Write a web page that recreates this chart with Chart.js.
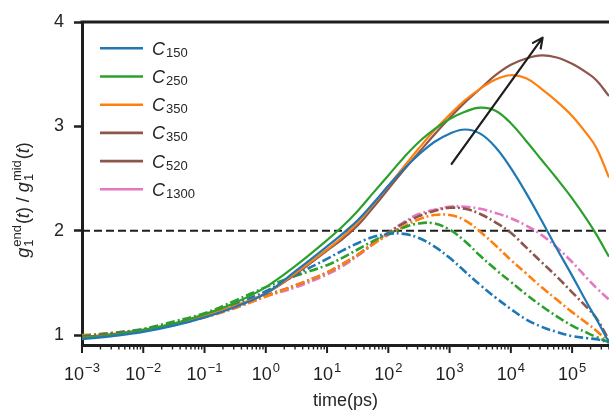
<!DOCTYPE html>
<html lang="en">
<head>
<meta charset="UTF-8" />
<title>g1 end / mid ratio</title>
<style>
  html, body { margin: 0; padding: 0; background: #fff; }
  #wrap { width: 609px; height: 412px; }
</style>
</head>
<body>
<div id="wrap"><canvas id="chart" width="609" height="412"></canvas></div>
<script src="https://cdn.jsdelivr.net/npm/chart.js"></script>
<script>
// time axis (ps), log spaced samples
const times = [0.001, 0.00316, 0.01, 0.0316, 0.1, 0.316, 1, 3.16, 10, 17.8, 31.6, 56.2, 100, 178, 316, 562,
               1000, 1780, 3160, 5620, 10000, 17800, 31600, 56200, 100000, 178000, 251000, 400000];

// solid curves
const solid150 = [0.96, 0.99, 1.03, 1.09, 1.17, 1.27, 1.40, 1.62, 1.85, 1.97, 2.10, 2.26, 2.43, 2.59, 2.73, 2.85,
                  2.93, 2.97, 2.93, 2.80, 2.60, 2.36, 2.10, 1.83, 1.57, 1.30, 1.15, 0.93];
const solid250 = [0.97, 1.00, 1.05, 1.11, 1.20, 1.31, 1.46, 1.67, 1.91, 2.04, 2.19, 2.36, 2.53, 2.70, 2.85, 2.97,
                  3.07, 3.14, 3.18, 3.15, 3.03, 2.86, 2.68, 2.50, 2.31, 2.10, 1.96, 1.75];
const solid350 = [0.97, 1.00, 1.04, 1.10, 1.18, 1.28, 1.40, 1.60, 1.82, 1.94, 2.08, 2.25, 2.43, 2.61, 2.79, 2.96,
                  3.11, 3.25, 3.36, 3.45, 3.49, 3.46, 3.36, 3.24, 3.10, 2.92, 2.79, 2.51];
const solid520 = [0.98, 1.01, 1.05, 1.11, 1.19, 1.28, 1.40, 1.59, 1.81, 1.92, 2.05, 2.22, 2.40, 2.58, 2.75, 2.92,
                  3.08, 3.23, 3.36, 3.49, 3.59, 3.65, 3.68, 3.66, 3.60, 3.51, 3.44, 3.29];

// dash-dot curves
const dd150  = [0.98, 1.01, 1.05, 1.11, 1.19, 1.30, 1.42, 1.58, 1.73, 1.81, 1.88, 1.94, 1.97, 1.97, 1.93, 1.85,
                1.74, 1.61, 1.48, 1.36, 1.25, 1.15, 1.08, 1.03, 0.99, 0.97, 0.96, 0.93];
const dd250  = [0.99, 1.02, 1.06, 1.13, 1.21, 1.33, 1.46, 1.57, 1.67, 1.74, 1.82, 1.90, 1.97, 2.03, 2.07, 2.07,
                2.01, 1.90, 1.76, 1.63, 1.51, 1.39, 1.28, 1.18, 1.09, 1.02, 0.98, 0.93];
const dd350  = [1.00, 1.02, 1.05, 1.10, 1.17, 1.26, 1.37, 1.48, 1.60, 1.68, 1.77, 1.87, 1.96, 2.04, 2.11, 2.15,
                2.15, 2.10, 1.99, 1.86, 1.72, 1.59, 1.46, 1.34, 1.22, 1.11, 1.04, 0.93];
const dd520  = [0.99, 1.02, 1.05, 1.11, 1.18, 1.27, 1.38, 1.48, 1.60, 1.68, 1.77, 1.88, 1.98, 2.07, 2.14, 2.19,
                2.22, 2.21, 2.16, 2.08, 1.98, 1.84, 1.70, 1.56, 1.41, 1.26, 1.16, 0.95];
const dd1300 = [0.98, 1.01, 1.05, 1.10, 1.17, 1.26, 1.37, 1.46, 1.58, 1.66, 1.76, 1.87, 1.98, 2.08, 2.16, 2.20,
                2.23, 2.23, 2.21, 2.17, 2.12, 2.05, 1.96, 1.84, 1.70, 1.54, 1.45, 1.34];

const legendSubs = ['150', '250', '350', '350', '520', '1300'];
const legendColors = ['#1f77b4', '#2ca02c', '#ff7f0e', '#8c564b', '#8c564b', '#e377c2'];

const xDecades = [-3, -2, -1, 0, 1, 2, 3, 4, 5];
const yTicks = [1, 2, 3, 4];
const refLevel = 2;
const arrowFrom = [1080, 2.64];
const arrowTo = [33000, 3.85];

const FONT = '"Liberation Sans", Arial, Helvetica, sans-serif';
const INK = '#1e1e1e';
const X_MIN = 0.001, X_MAX = 400000;

const pts = arr => times.map((t, i) => ({ x: t, y: arr[i] }));
const solid = (arr, color) => ({ data: pts(arr), borderColor: color, borderWidth: 2.2 });
const dashdot = (arr, color) => ({ data: pts(arr), borderColor: color, borderWidth: 2.6, borderDash: [9, 3, 2, 3] });

// draws the rotated y title with sub/superscripts
function richText(ctx, segs, x0, y0, size, small) {
  let x = x0;
  for (const s of segs) {
    if (s.t !== undefined) {
      ctx.font = (s.i ? 'italic ' : '') + size + 'px ' + FONT;
      ctx.fillText(s.t, x, y0);
      x += ctx.measureText(s.t).width;
    } else {
      ctx.font = small + 'px ' + FONT;
      let ww = 0;
      if (s.sub) { ctx.fillText(s.sub, x + 1, y0 + 4); ww = Math.max(ww, ctx.measureText(s.sub).width); }
      if (s.sup) { ctx.fillText(s.sup, x + 1, y0 - 8); ww = Math.max(ww, ctx.measureText(s.sup).width); }
      x += ww + 2;
    }
  }
  return x - x0;
}

const decor = {
  id: 'decor',
  afterDatasetsDraw(chart) {
    const { ctx, scales: { x, y } } = chart;
    // arrow
    const x1 = x.getPixelForValue(arrowFrom[0]), y1 = y.getPixelForValue(arrowFrom[1]);
    const x2 = x.getPixelForValue(arrowTo[0]), y2 = y.getPixelForValue(arrowTo[1]);
    const ang = Math.atan2(y2 - y1, x2 - x1);
    ctx.save();
    ctx.strokeStyle = INK;
    ctx.lineWidth = 2.2;
    ctx.lineCap = 'round';
    ctx.beginPath();
    ctx.moveTo(x1, y1); ctx.lineTo(x2, y2);
    for (const s of [-1, 1]) {
      ctx.moveTo(x2, y2);
      ctx.lineTo(x2 - 11 * Math.cos(ang + s * 0.45), y2 - 11 * Math.sin(ang + s * 0.45));
    }
    ctx.stroke();
    ctx.restore();
  },
  afterDraw(chart) {
    const { ctx, chartArea: a, scales: { x } } = chart;
    ctx.save();
    ctx.strokeStyle = INK;
    ctx.fillStyle = INK;
    // top spine
    ctx.lineWidth = 3;
    ctx.beginPath(); ctx.moveTo(a.left - 1.5, a.top); ctx.lineTo(a.right, a.top); ctx.stroke();

    // x ticks, major + minor
    for (const d of xDecades) {
      const base = Math.pow(10, d);
      ctx.lineWidth = 2;
      let px = x.getPixelForValue(base);
      ctx.beginPath(); ctx.moveTo(px, a.bottom); ctx.lineTo(px, a.bottom + 8); ctx.stroke();
      ctx.lineWidth = 1.4;
      for (let m = 2; m <= 9; m++) {
        const v = m * base;
        if (v > X_MAX) break;
        px = x.getPixelForValue(v);
        ctx.beginPath(); ctx.moveTo(px, a.bottom); ctx.lineTo(px, a.bottom + 4.5); ctx.stroke();
      }
    }
    // x tick labels 10^n
    ctx.textBaseline = 'alphabetic';
    for (const d of xDecades) {
      const px = x.getPixelForValue(Math.pow(10, d));
      const exp = d < 0 ? '\u2212' + Math.abs(d) : String(d);
      ctx.font = '18px ' + FONT;
      const w1 = ctx.measureText('10').width;
      ctx.font = '13px ' + FONT;
      const w2 = ctx.measureText(exp).width;
      const sx = px - (w1 + w2 + 1) / 2;
      ctx.font = '18px ' + FONT;
      ctx.fillText('10', sx, 380);
      ctx.font = '13px ' + FONT;
      ctx.fillText(exp, sx + w1 + 1, 372);
    }

    // legend
    legendSubs.forEach((sub, i) => {
      const ly = 48.3 + 28.2 * i;
      ctx.strokeStyle = legendColors[i];
      ctx.lineWidth = 2.6;
      ctx.beginPath(); ctx.moveTo(100, ly); ctx.lineTo(143, ly); ctx.stroke();
      ctx.fillStyle = '#262626';
      ctx.font = 'italic 18px ' + FONT;
      ctx.fillText('C', 152, ly + 6.5);
      const cw = ctx.measureText('C').width;
      ctx.font = '13px ' + FONT;
      ctx.fillText(sub, 152 + cw + 1, ly + 8.5);
    });

    // y title
    ctx.fillStyle = '#262626';
    const segs = [
      { t: 'g', i: true }, { sub: '1', sup: 'end' }, { t: '(' }, { t: 't', i: true }, { t: ')' }, { t: ' / ' },
      { t: 'g', i: true }, { sub: '1', sup: 'mid' }, { t: '(' }, { t: 't', i: true }, { t: ')' }
    ];
    ctx.translate(29, 200);
    ctx.rotate(-Math.PI / 2);
    ctx.globalAlpha = 0;
    const tw = richText(ctx, segs, 0, 0, 18, 13);
    ctx.globalAlpha = 1;
    richText(ctx, segs, -tw / 2, 0, 18, 13);
    ctx.restore();
  }
};

new Chart(document.getElementById('chart'), {
  type: 'line',
  data: {
    datasets: [
      solid(solid150, '#1f77b4'),
      solid(solid250, '#2ca02c'),
      solid(solid350, '#ff7f0e'),
      solid(solid520, '#8c564b'),
      dashdot(dd150, '#1f77b4'),
      dashdot(dd250, '#2ca02c'),
      dashdot(dd350, '#ff7f0e'),
      dashdot(dd520, '#8c564b'),
      dashdot(dd1300, '#e377c2'),
      { data: [{ x: X_MIN, y: refLevel }, { x: X_MAX, y: refLevel }], borderColor: INK, borderWidth: 2, borderDash: [8, 4], tension: 0 }
    ]
  },
  options: {
    responsive: false,
    animation: false,
    devicePixelRatio: 1,
    elements: {
      point: { radius: 0 },
      line: { tension: 0.4, fill: false }
    },
    layout: { padding: { top: 22, right: 0, bottom: 0, left: 0 } },
    plugins: { legend: { display: false }, tooltip: { enabled: false } },
    scales: {
      x: {
        type: 'logarithmic',
        min: X_MIN,
        max: X_MAX,
        grid: { display: false },
        border: { display: true, color: INK, width: 3 },
        ticks: { display: false },
        title: { display: true, text: 'time(ps)', color: '#262626', font: { family: FONT, size: 18 }, padding: { top: 0, bottom: 0 } },
        afterFit(s) { s.height = 67; }
      },
      y: {
        type: 'linear',
        min: 0.905,
        max: 4,
        afterBuildTicks(s) { s.ticks = yTicks.map(v => ({ value: v })); },
        ticks: { color: '#262626', font: { family: FONT, size: 18 }, padding: 10 },
        grid: { drawOnChartArea: false, drawTicks: true, tickLength: 8, tickWidth: 2.5, tickColor: INK },
        border: { color: INK, width: 3 },
        afterFit(s) { s.width = 82; }
      }
    }
  },
  plugins: [decor]
});
</script>
</body>
</html>
